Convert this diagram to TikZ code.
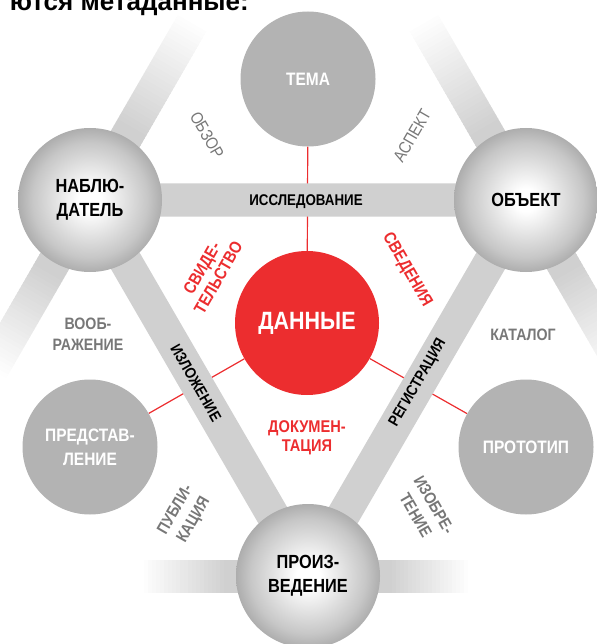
\documentclass[tikz,border=0pt]{standalone}
\usepackage{fontspec}
\setmainfont{Liberation Sans}
\newfontfamily\condfont{Liberation Sans}[FakeStretch=0.86]
\usetikzlibrary{backgrounds}

\definecolor{bandgray}{HTML}{D0D0D0}
\definecolor{flatgray}{HTML}{B3B3B3}
\definecolor{datared}{HTML}{EC2D2F}
\definecolor{lblgray}{HTML}{777777}
\pgfdeclareradialshading{sphereshade}{\pgfpoint{0bp}{0bp}}{color(0bp)=(white); color(4bp)=(white); color(20bp)=(black!22); color(35bp)=(black!52); color(50bp)=(black!52)}

\begin{document}
\begin{tikzpicture}[x=1pt, y=-1pt,
	sphere/.style={circle, minimum size=144pt, inner sep=0pt, shade, shading=sphereshade, align=center, font=\condfont\bfseries\fontsize{19}{24}\selectfont},
	flat/.style={circle, minimum size=135pt, inner sep=0pt, fill=flatgray, text=white, align=center, font=\condfont\bfseries\fontsize{18}{24}\selectfont},
	core/.style={circle, minimum size=144pt, inner sep=0pt, fill=datared, text=white, font=\condfont\bfseries\fontsize{25}{25}\selectfont},
	band/.style={draw=bandgray, line width=33pt},
	link/.style={draw=datared, line width=1.2pt},
	bandlbl/.style={font=\condfont\bfseries\fontsize{15.5}{15}\selectfont},
	graylbl/.style={text=lblgray, align=center, font=\condfont\bfseries\fontsize{16.5}{21}\selectfont},
	thinlbl/.style={text=lblgray, font=\condfont\fontsize{17}{21}\selectfont},
	redlbl/.style={text=datared, align=center, font=\condfont\bfseries\fontsize{17}{19}\selectfont}]
	\useasboundingbox (0,0) rectangle (596,644);
	% heading, cut by the top edge
	\node[anchor=base east, inner sep=0pt, font=\bfseries\fontsize{26}{26}\selectfont] (head) at (249,11) {ются метаданные:};
	% big spheres and circles
	\node[sphere] (nab) at (90,200) {НАБЛЮ-\\ДАТЕЛЬ};
	\node[sphere] (obj) at (526,200) {ОБЪЕКТ};
	\node[sphere] (proizv) at (308,576) {ПРОИЗ-\\ВЕДЕНИЕ};
	\node[core] (data) at (307,323) {ДАННЫЕ};
	\node[flat] (tema) at (308,79) {ТЕМА};
	\node[flat] (pred) at (90,447) {ПРЕДСТАВ-\\ЛЕНИЕ};
	\node[flat] (proto) at (526,447) {ПРОТОТИП};
	% bands and links underneath
	\begin{scope}[on background layer]
		\draw[link] (tema) -- (data);
		\draw[link] (pred) -- (data);
		\draw[link] (proto) -- (data);
		\draw[band] (nab.center) -- (obj.center) -- (proizv.center) -- cycle;
		\foreach \n/\ang/\e in {nab/60/205, nab/240/195, obj/120/205, obj/-60/195, proizv/0/160, proizv/180/165} {
			\begin{scope}[shift={(\n.center)}, rotate=\ang]
				\foreach \d in {60,64,...,204} {
					\pgfmathtruncatemacro\p{max(0,min(100,100*(\e-\d)/(\e-80)))}
					\draw[draw=bandgray!\p!white, line width=33pt] (\d,0) -- (\d+5,0);
				}
			\end{scope}
		}
	\end{scope}
	% band labels
	\node[bandlbl] (issl) at (306,202) {ИССЛЕДОВАНИЕ};
	\node[bandlbl, rotate=-60] (izl) at (196,383) {ИЗЛОЖЕНИЕ};
	\node[bandlbl, rotate=60] (reg) at (418,383) {РЕГИСТРАЦИЯ};
	% outer labels
	\node[thinlbl, rotate=-60] (obzor) at (207,135) {ОБЗОР};
	\node[thinlbl, rotate=60] (aspekt) at (412,136) {АСПЕКТ};
	\node[graylbl] (voobr) at (88,334) {ВООБ-\\РАЖЕНИЕ};
	\node[graylbl] (katalog) at (523,335) {КАТАЛОГ};
	\node[graylbl, rotate=60] (publ) at (185,515) {ПУБЛИ-\\КАЦИЯ};
	\node[graylbl, rotate=-60] (izobr) at (425,510) {ИЗОБРЕ-\\ТЕНИЕ};
	% inner labels
	\node[redlbl, rotate=60] (svid) at (210,273) {СВИДЕ-\\ТЕЛЬСТВО};
	\node[redlbl, rotate=-60] (sved) at (407,270) {СВЕДЕНИЯ};
	\node[redlbl] (dok) at (307,438) {ДОКУМЕН-\\ТАЦИЯ};
\end{tikzpicture}
\end{document}
